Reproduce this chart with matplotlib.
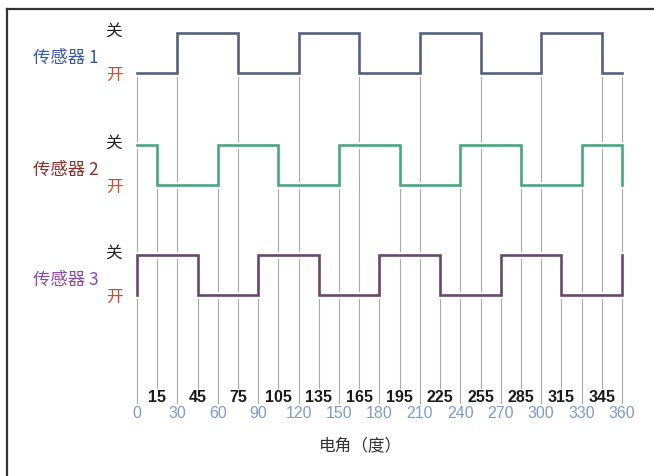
import matplotlib
matplotlib.use("Agg")
import matplotlib.pyplot as plt
import matplotlib.patheffects as pe
from matplotlib.lines import Line2D

plt.rcParams["font.family"] = ["Noto Sans CJK SC", "DejaVu Sans"]

# 数据: 每个传感器的跳变角度 (电角, 度) 和对应状态 (1 = 关, 0 = 开), steps-post
S1_X = [0, 30, 75, 120, 165, 210, 255, 300, 345, 360]
S1_Y = [0, 1, 0, 1, 0, 1, 0, 1, 0, 0]
S2_X = [0, 15, 60, 105, 150, 195, 240, 285, 330, 360, 360]
S2_Y = [1, 0, 1, 0, 1, 0, 1, 0, 1, 1, 0]
S3_X = [0, 0, 45, 90, 135, 180, 225, 270, 315, 360, 360]
S3_Y = [0, 1, 0, 1, 0, 1, 0, 1, 0, 0, 1]

NAMES = ["传感器 1", "传感器 2", "传感器 3"]
ON_OFF = ["关", "开"]
ANGLES = list(range(0, 361, 15))
XLABEL = "电角（度）"

# 版面 (像素, 与参考图一致)
W, H = 654, 476
X0, X1 = 137, 622                 # 0 度 和 360 度 的像素位置
LOW = [73, 185, 295]              # 每行 "开" 的 y
AMP = 40
WAVE_C = ["#56617c", "#4aa680", "#6a476e"]
NAME_C = ["#3a58a8", "#8a2e2e", "#8e4aa8"]
GRID_C = "#a8a8a8"

sx = (X1 - X0) / 360.0


def px(x):
    # 像素 -> 度
    return (x - X0) / sx


fig = plt.figure(figsize=(W / 100, H / 100), dpi=100)
ax = fig.add_axes([0, 0, 1, 1])
ax.set_xlim(px(0), px(W))
ax.set_ylim(H, 0)
ax.axis("off")

waves = [(S1_X, S1_Y), (S2_X, S2_Y), (S3_X, S3_Y)]

# 竖线: 从第一个在该角度跳变的传感器开始, 一直到底部
for a in ANGLES:
    top = None
    for i, (xs, ys) in enumerate(waves):
        if a in xs:
            top = LOW[i]
            break
    bottom = 403 if a % 30 == 0 else 388
    ax.plot([a, a], [top, bottom], color=GRID_C, lw=0.8, zorder=1)

for i, (xs, ys) in enumerate(waves):
    yy = [LOW[i] - AMP * v for v in ys]
    ax.plot(xs, yy, drawstyle="steps-post", color=WAVE_C[i], lw=1.9,
            solid_joinstyle="miter", zorder=3,
            path_effects=[pe.Stroke(linewidth=5, foreground="white"), pe.Normal()])
    ax.text(px(99), LOW[i] - 15, NAMES[i], color=NAME_C[i], fontsize=12.5,
            ha="right", va="center")
    ax.text(px(114), LOW[i] - AMP - 2, ON_OFF[0], color="#222222",
            fontsize=12, ha="center", va="center")
    ax.text(px(114), LOW[i] + 2, ON_OFF[1], color="#e8402a",
            fontsize=12, ha="center", va="center")

for a in ANGLES:
    if a % 30 == 0:
        ax.text(a, 414, str(a), color="#7d9cc9", fontsize=11.5,
                family="Liberation Sans", ha="center", va="center")
    else:
        ax.text(a, 397, str(a), color="#1a1a1a", fontsize=11.5,
                family="Liberation Sans", fontweight="bold",
                ha="center", va="center")

ax.text(px(360), 446, XLABEL, color="#333333", fontsize=12,
        ha="center", va="center")

# 外框 (只露出左边和上边)
fig.add_artist(Line2D([7 / W, 7 / W], [0, 1 - 9 / H], transform=fig.transFigure,
                      color="#333333", lw=1.6))
fig.add_artist(Line2D([7 / W, 1], [1 - 9 / H, 1 - 9 / H], transform=fig.transFigure,
                      color="#333333", lw=1.6))

fig.savefig("out.png", dpi=100)
